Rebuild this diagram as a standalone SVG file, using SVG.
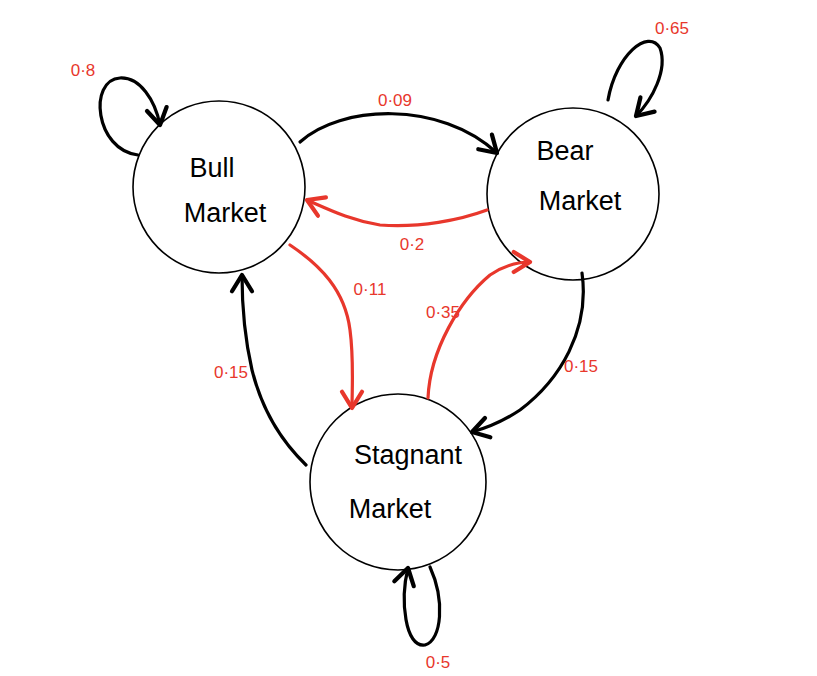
<svg xmlns="http://www.w3.org/2000/svg" width="817" height="676" viewBox="0 0 817 676">
<style>
.node{fill:#fff;stroke:#000;stroke-width:1.6}
.nt{font-family:"Liberation Sans",sans-serif;font-size:27px;fill:#000;text-anchor:middle}
.e{fill:none;stroke-width:3.2;stroke-linecap:round;stroke-linejoin:round}
.k{stroke:#000}
.r{stroke:#e8372c}
.lb{font-family:"Liberation Sans",sans-serif;font-size:17px;fill:#e8372c;text-anchor:middle}
</style>
<defs>
<marker id="ak" markerUnits="userSpaceOnUse" markerWidth="30" markerHeight="30" refX="0" refY="0" viewBox="-16 -12 20 24" orient="auto">
<path d="M-13,-8 L0,0 L-13,8" fill="none" stroke="#000" stroke-width="3.4" stroke-linecap="round" stroke-linejoin="round"/>
</marker>
<marker id="ar" markerUnits="userSpaceOnUse" markerWidth="30" markerHeight="30" refX="0" refY="0" viewBox="-16 -12 20 24" orient="auto">
<path d="M-13,-8 L0,0 L-13,8" fill="none" stroke="#e8372c" stroke-width="3.4" stroke-linecap="round" stroke-linejoin="round"/>
</marker>
</defs>
<rect width="817" height="676" fill="#fff"/>
<g id="bull">
<circle class="node" cx="219" cy="187" r="86"/>
<text class="nt" x="212" y="177">Bull</text>
<text class="nt" x="225" y="222">Market</text>
</g>
<g id="bear">
<circle class="node" cx="573" cy="194" r="86"/>
<text class="nt" x="565" y="160">Bear</text>
<text class="nt" x="580" y="210">Market</text>
</g>
<g id="stagnant">
<circle class="node" cx="398" cy="482" r="88"/>
<text class="nt" x="408" y="464">Stagnant</text>
<text class="nt" x="390" y="518">Market</text>
</g>
<g id="connectors">
<path class="e k" d="M138,155 C95,150 88,80 120,78 C140,77 155,100 160,125" marker-end="url(#ak)"/>
<path class="e k" d="M608,100 C616,55 648,28 660,48 C668,70 652,100 636,116" marker-end="url(#ak)"/>
<path class="e k" d="M300,142 C340,105 440,100 497,153" marker-end="url(#ak)"/>
<path class="e r" d="M487,210 C460,220 420,228 380,225 C350,220 330,210 307,200" marker-end="url(#ar)"/>
<path class="e r" d="M290,245 C320,265 345,290 350,330 C354,360 352,390 352,408" marker-end="url(#ar)"/>
<path class="e r" d="M428,398 C430,350 460,300 490,275 C505,265 518,262 530,262" marker-end="url(#ar)"/>
<path class="e k" d="M582,273 C590,330 560,380 520,410 C505,420 490,427 472,432" marker-end="url(#ak)"/>
<path class="e k" d="M306,465 C280,440 262,410 252,370 C244,335 242,300 242,275" marker-end="url(#ak)"/>
<path class="e k" d="M430,567 C445,600 442,640 425,645 C405,648 400,600 408,568" marker-end="url(#ak)"/>
</g>
<g id="labels">
<text class="lb" x="83" y="76">0·8</text>
<text class="lb" x="395" y="106">0·09</text>
<text class="lb" x="412" y="250">0·2</text>
<text class="lb" x="672" y="34">0·65</text>
<text class="lb" x="370" y="295">0·11</text>
<text class="lb" x="443" y="318">0·35</text>
<text class="lb" x="581" y="372">0·15</text>
<text class="lb" x="231" y="378">0·15</text>
<text class="lb" x="438" y="668">0·5</text>
</g>
</svg>
